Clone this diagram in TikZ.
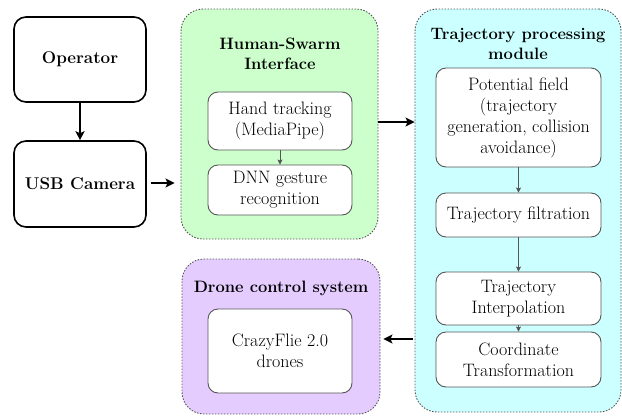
\documentclass[tikz,border=0pt]{standalone}
\usetikzlibrary{arrows.meta}
\definecolor{hsigreen}{HTML}{CCFFCC}
\definecolor{tpmcyan}{HTML}{CCFFFF}
\definecolor{dcspurple}{HTML}{E5CCFF}
\definecolor{bordergray}{HTML}{555555}
\tikzset{
  outerbox/.style={draw=black, line width=1.6pt, rounded corners=12pt, fill=white, align=center,
    font=\rmfamily\fontsize{17}{21}\selectfont\bfseries, inner sep=0pt},
  container/.style={draw=bordergray, line width=0.9pt, dash pattern=on 1.5pt off 1.5pt,
    rounded corners=22pt, inner sep=0pt},
  innerbox/.style={draw=bordergray, line width=0.9pt, rounded corners=10pt, fill=white, align=center,
    font=\rmfamily\fontsize{18}{21}\selectfont, inner sep=0pt},
  title/.style={align=center, font=\rmfamily\fontsize{16.5}{20}\selectfont\bfseries, inner sep=0pt},
  bigarrow/.style={draw=black, line width=1.6pt, -{Stealth[length=9pt,width=9pt,inset=2pt]}},
  smallarrow/.style={draw=bordergray, line width=0.7pt, -{Stealth[length=5pt,width=5pt,inset=1pt]}, color=bordergray},
}
\begin{document}
\begin{tikzpicture}[x=1pt,y=-1pt]
\useasboundingbox (0,0) rectangle (622,416);
% containers
\node[container, fill=hsigreen, minimum width=197pt, minimum height=230pt] (hsi) at (279.5,124) {};
\node[container, fill=tpmcyan, minimum width=206pt, minimum height=403pt] (tpm) at (518,210.5) {};
\node[container, fill=dcspurple, minimum width=198pt, minimum height=155pt] (dcs) at (281,336.5) {};
% titles
\node[title] (hsititle) at (280,53.5) {Human-Swarm\\Interface};
\node[title] (tpmtitle) at (518,43.5) {Trajectory processing\\module};
\node[title] (dcstitle) at (281,288) {Drone control system};
% outer boxes
\node[outerbox, minimum width=132pt, minimum height=85pt] (op) at (80,59.5) {Operator};
\node[outerbox, minimum width=132pt, minimum height=86pt] (usb) at (80,184) {USB Camera};
% inner boxes
\node[innerbox, minimum width=144pt, minimum height=58pt] (hand) at (280,121) {Hand tracking\\(MediaPipe)};
\node[innerbox, minimum width=144pt, minimum height=50pt] (dnn) at (280,190) {DNN gesture\\recognition};
\node[innerbox, minimum width=165pt, minimum height=99pt] (pf) at (518.5,117.5) {Potential field\\(trajectory\\generation, collision\\avoidance)};
\node[innerbox, minimum width=165pt, minimum height=44pt] (filt) at (518.5,215) {Trajectory filtration};
\node[innerbox, minimum width=165pt, minimum height=53pt] (interp) at (518.5,298.5) {Trajectory\\Interpolation};
\node[innerbox, minimum width=165pt, minimum height=55pt] (coord) at (518.5,359.5) {Coordinate\\Transformation};
\node[innerbox, minimum width=144pt, minimum height=84pt] (crazy) at (280,351) {CrazyFlie 2.0\\drones};
% arrows
\draw[bigarrow] (op.south) -- (usb.north);
\draw[bigarrow, shorten <=4pt, shorten >=6pt] (usb.east |- 0,183) -- (hsi.west |- 0,183);
\draw[bigarrow] (hsi.east |- 0,122) -- (tpm.west |- 0,122);
\draw[bigarrow, shorten <=2pt, shorten >=3pt] (tpm.west |- 0,339) -- (dcs.east |- 0,339);
\draw[smallarrow] (hand.south) -- (dnn.north);
\draw[smallarrow] (pf.south) -- (filt.north);
\draw[smallarrow] (filt.south) -- (interp.north);
\draw[smallarrow] (interp.south) -- (coord.north);
\end{tikzpicture}
\end{document}
